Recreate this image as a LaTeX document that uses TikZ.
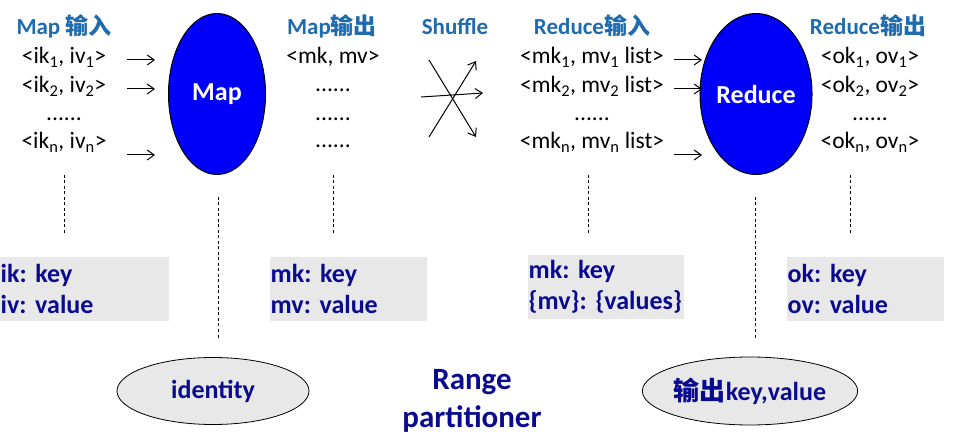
\documentclass[tikz,border=0pt]{standalone}
\usepackage{fontspec}
\setmainfont{Carlito}
\newfontfamily\cjk{Noto Sans CJK SC}
\usepackage{xcolor}
\usepackage{tikz}
\usetikzlibrary{shapes, arrows.meta, positioning}
\definecolor{titazul}{RGB}{31,107,175}
\definecolor{marino}{RGB}{10,10,145}
\definecolor{azulproc}{RGB}{0,0,250}
\definecolor{grisclaro}{RGB}{232,232,232}
\tikzset{
  titulo/.style={font=\fontsize{23}{27}\selectfont\bfseries, text=titazul, inner sep=0pt, anchor=base},
  par/.style={font=\fontsize{23.5}{28}\selectfont, inner sep=0pt, anchor=base},
  proceso/.style={ellipse, draw=black, line width=1pt, fill=azulproc, text=white,
    font=\fontsize{26}{31}\selectfont\bfseries, minimum width=97pt, minimum height=161pt, inner sep=0pt},
  caja/.style={fill=grisclaro, text=marino, font=\fontsize{26}{31}\selectfont\bfseries\frenchspacing,
    align=left, anchor=north west, minimum height=64pt, inner xsep=0.5pt, inner ysep=0pt},
  elipgris/.style={ellipse, draw=black, line width=0.8pt, fill=grisclaro, text=marino,
    font=\fontsize{26}{31}\selectfont\bfseries, minimum width=192pt, minimum height=67pt, inner sep=0pt},
  flecha/.style={-{Straight Barb[length=7pt,width=10pt]}, line width=1pt},
  punteada/.style={dash pattern=on 3pt off 2.5pt, line width=0.8pt},
}

\begin{document}
\frenchspacing
\begin{tikzpicture}[x=1pt,y=-1pt]
        \useasboundingbox (0,0) rectangle (963,443);
        % Titulos
        \node[titulo] (tmapin) at (64,35) {Map {\cjk 输入}};
        \node[titulo] (tmapout) at (332,35) {Map{\cjk 输出}};
        \node[titulo] (tshuf) at (455,35) {Shuffle};
        \node[titulo] (tredin) at (592,35) {Reduce{\cjk 输入}};
        \node[titulo] (tredout) at (868,35) {Reduce{\cjk 输出}};
        % Entrada de Map
        \node[par] (in1) at (64,64) {<ik\textsubscript{1}, iv\textsubscript{1}>};
        \node[par] (in2) at (64,93) {<ik\textsubscript{2}, iv\textsubscript{2}>};
        \node[par] (indots) at (64,121) {......};
        \node[par] (inn) at (64,149) {<ik\textsubscript{n}, iv\textsubscript{n}>};
        % Salida de Map
        \node[par] (mout1) at (333,64) {<mk, mv>};
        \node[par] (mdots1) at (333,92) {......};
        \node[par] (mdots2) at (333,121) {......};
        \node[par] (mdots3) at (333,148) {......};
        % Entrada de Reduce
        \node[par] (rin1) at (592,64) {<mk\textsubscript{1}, mv\textsubscript{1} list>};
        \node[par] (rin2) at (592,93) {<mk\textsubscript{2}, mv\textsubscript{2} list>};
        \node[par] (rindots) at (592,121) {......};
        \node[par] (rinn) at (592,149) {<mk\textsubscript{n}, mv\textsubscript{n} list>};
        % Salida de Reduce
        \node[par] (out1) at (870,64) {<ok\textsubscript{1}, ov\textsubscript{1}>};
        \node[par] (out2) at (870,93) {<ok\textsubscript{2}, ov\textsubscript{2}>};
        \node[par] (outdots) at (870,121) {......};
        \node[par] (outn) at (870,149) {<ok\textsubscript{n}, ov\textsubscript{n}>};
        % Elipses de proceso
        \node[proceso] (map) at (217,94) {Map};
        \node[proceso] (reduce) at (756,94) {Reduce};
        % Flechas hacia Map
        \coordinate (ma1) at (127,60); \coordinate (mb1) at (155,60);
        \coordinate (ma2) at (127,89); \coordinate (mb2) at (155,89);
        \coordinate (ma3) at (127,155); \coordinate (mb3) at (155,155);
        \draw[flecha] (ma1) -- (mb1);
        \draw[flecha] (ma2) -- (mb2);
        \draw[flecha] (ma3) -- (mb3);
        % Flechas hacia Reduce
        \coordinate (ra1) at (674,60); \coordinate (rb1) at (702,60);
        \coordinate (ra2) at (674,89); \coordinate (rb2) at (702,89);
        \coordinate (ra3) at (674,155); \coordinate (rb3) at (702,155);
        \draw[flecha] (ra1) -- (rb1);
        \draw[flecha] (ra2) -- (rb2);
        \draw[flecha] (ra3) -- (rb3);
        % Shuffle cruzado
        \coordinate (sa1) at (429,60); \coordinate (sb1) at (476,137);
        \coordinate (sa2) at (429,137); \coordinate (sb2) at (476,61);
        \coordinate (sa3) at (421,97); \coordinate (sb3) at (483,93);
        \draw[flecha] (sa1) -- (sb1);
        \draw[flecha] (sa2) -- (sb2);
        \draw[flecha] (sa3) -- (sb3);
        % Cajas grises
        \node[caja, text width=168pt] (bin) at (0,257) {ik: key\\iv: value};
        \node[caja, text width=156pt] (bmap) at (270,257) {mk: key\\mv: value};
        \node[caja, text width=155pt] (bred) at (528,255) {mk: key\\\{mv\}: \{values\}};
        \node[caja, text width=156pt] (bout) at (787,257) {ok: key\\ov: value};
        % Lineas punteadas
        \coordinate (da1) at (64,175); \coordinate (db1) at (64,233);
        \coordinate (da2) at (333,175); \coordinate (db2) at (333,233);
        \coordinate (da3) at (588,175); \coordinate (db3) at (588,233);
        \coordinate (da4) at (850,175); \coordinate (db4) at (850,233);
        \coordinate (dm1) at (218,197); \coordinate (dm2) at (218,338);
        \coordinate (dr1) at (755,197); \coordinate (dr2) at (755,338);
        \draw[punteada] (da1) -- (db1);
        \draw[punteada] (da2) -- (db2);
        \draw[punteada] (da3) -- (db3);
        \draw[punteada] (da4) -- (db4);
        \draw[punteada] (dm1) -- (dm2);
        \draw[punteada] (dr1) -- (dr2);
        % Elipses inferiores
        \node[elipgris] (ident) at (213,391) {identity};
        \node[elipgris, minimum width=193pt, minimum height=68pt] (salida) at (750,391) {{\cjk 输出}key,value};
        \node[text=marino, font=\fontsize{31}{38}\selectfont\bfseries, align=center, inner sep=0pt] (rango) at (472,401) {Range\\partitioner};
\end{tikzpicture}
\end{document}
